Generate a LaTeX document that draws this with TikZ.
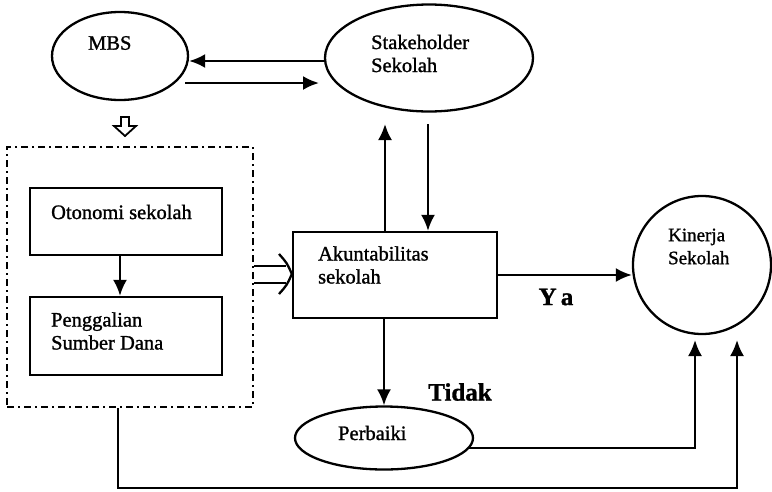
\documentclass[tikz,border=0pt]{standalone}
\usepackage{fontspec}
\setmainfont{Liberation Serif}[FakeBold=1.2]
\usetikzlibrary{arrows.meta,shapes.geometric}
\begin{document}
\begin{tikzpicture}[x=1pt,y=-1pt,
  line width=2.3pt,
  arr/.style={-{Latex[length=16pt,width=14pt]}},
  ell/.style={draw,ellipse,inner sep=0pt},
  boxn/.style={draw,rectangle,inner sep=0pt},
  txt/.style={font=\fontsize{20.5}{23}\selectfont,align=left,anchor=west,inner sep=0pt},
  big/.style={font=\fontsize{25}{28}\selectfont\bfseries,inner sep=0pt},
  dashdot/.style={draw,line width=2pt,dash pattern=on 7pt off 4pt on 2pt off 4pt},
]
\useasboundingbox (0,0) rectangle (772,491);

% nodes
\node[ell,minimum width=136pt,minimum height=88pt] (mbs) at (120,56) {};
\node[txt] (mbst) at (87,43) {MBS};
\node[ell,minimum width=208pt,minimum height=107pt] (stake) at (429,58) {};
\node[txt] (staket) at (370,53.5) {Stakeholder\\Sekolah};
\node[dashdot,rectangle,inner sep=0pt,minimum width=246pt,minimum height=260pt] (group) at (130,277) {};
\node[boxn,minimum width=192pt,minimum height=67pt] (oto) at (126,221.5) {};
\node[txt] (otot) at (50,212) {Otonomi sekolah};
\node[boxn,minimum width=192pt,minimum height=78pt] (peng) at (126,336) {};
\node[txt] (pengt) at (50,331) {Penggalian\\Sumber Dana};
\node[boxn,minimum width=204pt,minimum height=86pt] (akun) at (395,275) {};
\node[txt] (akunt) at (317,265) {Akuntabilitas\\sekolah};
\node[draw,circle,inner sep=0pt,minimum size=138pt] (kin) at (702,265) {};
\node[txt,font=\fontsize{19}{23}\selectfont] (kint) at (667,246.5) {Kinerja\\Sekolah};
\node[ell,minimum width=178pt,minimum height=63pt] (perb) at (384,438) {};
\node[txt] (perbt) at (337,433) {Perbaiki};
\node[big] (ya) at (556,297) {Y\,a};
\node[big] (tidak) at (460,392) {Tidak};

% helper coordinates
\coordinate (yL) at (0,61);
\coordinate (mR) at (185,83);
\coordinate (sR) at (319,83);
\coordinate (sU) at (385,124);
\coordinate (sD) at (428,124);
\coordinate (xU) at (385,0);
\coordinate (xD) at (428,0);
\coordinate (xO) at (120,0);
\coordinate (xB) at (118,0);
\coordinate (yY) at (0,275);
\coordinate (yBot) at (0,488);
\coordinate (kinB) at (737,340);
\coordinate (kinA) at (695,340);
\coordinate (yPl) at (0,448);

% MBS <-> Stakeholder
\draw[arr] (stake.west |- yL) -- (mbs.east |- yL);
\draw[arr] (mR) -- (sR);

% hollow down arrow under MBS
\draw[line width=1.8pt,fill=white] (121,117) -- (129,117) -- (129,126) -- (136,126) -- (125,136) -- (114,126) -- (121,126) -- cycle;

% Otonomi -> Penggalian
\draw[arr] (oto.south -| xO) -- (peng.north -| xO);

% double arrow group -> akun
\coordinate (dA) at (0,266);
\coordinate (dB) at (0,283);
\coordinate (dM) at (0,274);
\draw (group.east |- dA) -- (286,266);
\draw (group.east |- dB) -- (286,283);
\draw (279,254) .. controls (287,263) .. (akun.west |- dM) .. controls (287,285) .. (279,294);

% akun <-> stakeholder
\draw[arr] (akun.north -| xU) -- (sU);
\draw[arr] (sD) -- (akun.north -| xD);

% Ya
\draw[arr] (akun.east |- yY) -- (kin.west |- yY);

% Tidak
\draw[arr] (akun.south -| perb.north) -- (perb.north);

% Perbaiki -> Kinerja
\draw[arr] (perb.east |- yPl) ++(-5,0) -| (kinA);

% group -> Kinerja
\draw[arr] (group.south -| xB) -- (xB |- yBot) -| (kinB);
\end{tikzpicture}
\end{document}
